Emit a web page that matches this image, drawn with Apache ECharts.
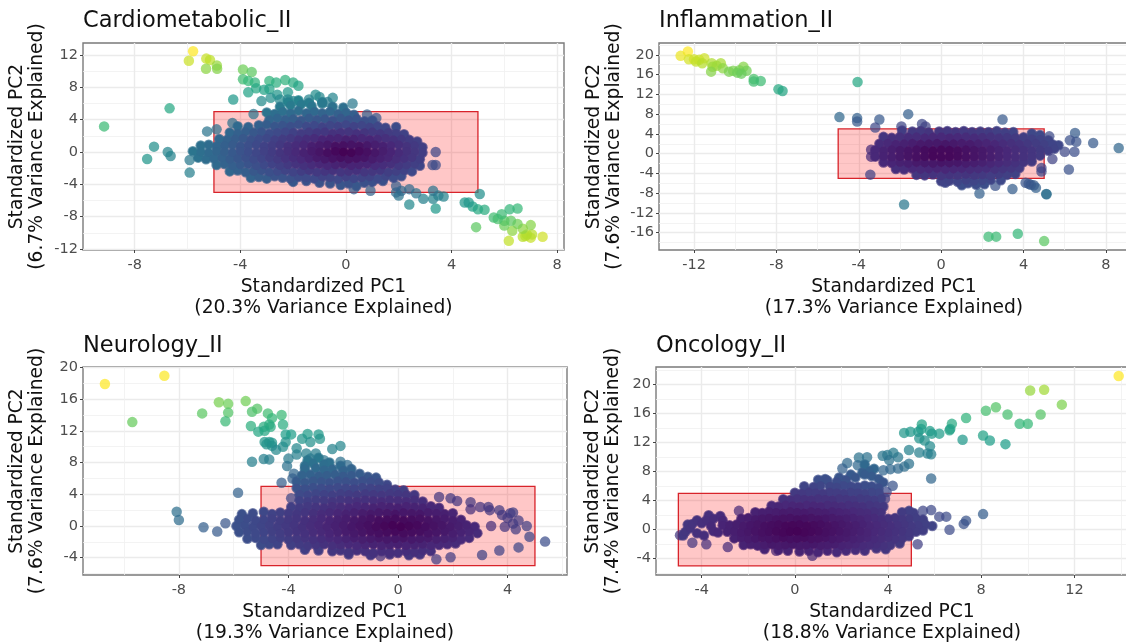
<!DOCTYPE html>
<html><head><meta charset="utf-8">
<script src="https://cdn.jsdelivr.net/npm/echarts@6/dist/echarts.min.js"></script>
<style>html,body{margin:0;padding:0;background:#fff;overflow:hidden}#c{width:1126px;height:642px}</style>
</head><body><div id="c"></div>
<script>
const panelTitles=["Cardiometabolic_II","Inflammation_II","Neurology_II","Oncology_II"];
const xNames=["Standardized PC1\n(20.3% Variance Explained)","Standardized PC1\n(17.3% Variance Explained)","Standardized PC1\n(19.3% Variance Explained)","Standardized PC1\n(18.8% Variance Explained)"];
const yNames=["Standardized PC2\n(6.7% Variance Explained)","Standardized PC2\n(7.6% Variance Explained)","Standardized PC2\n(7.6% Variance Explained)","Standardized PC2\n(7.4% Variance Explained)"];
const xMajor=[[-8,-4,0,4,8],[-12,-8,-4,0,4,8],[-8,-4,0,4],[-4,0,4,8,12]];
const xMinor=[[-6,-2,2,6],[-10,-6,-2,2,6],[-10,-6,-2,2,6],[-2,2,6,10,14]];
const yMajor=[[-12,-8,-4,0,4,8,12],[-16,-12,-8,-4,0,4,8,12,16,20],[-4,0,4,8,12,16,20],[-4,0,4,8,12,16,20]];
const yMinor=[[-10,-6,-2,2,6,10],[-18,-14,-10,-6,-2,2,6,10,14,18,22],[-6,-2,2,6,10,14,18],[-6,-2,2,6,10,14,18,22]];
const xRange=[[-9.96,8.26],[-13.7,9.12],[-11.5,6.17],[-5.96,14.3]];
const yRange=[[-12.13,13.49],[-19.5,22.4],[-6.18,20.05],[-6.25,22.44]];
const boxCorner=[5,5];
const viridis=["#440154","#482878","#3e4989","#31688e","#26828e","#1f9e89","#35b779","#6ece58","#b5de2b","#fde725"];

const cardioOuter=[
-5.79,12.47,-5.95,11.3,-5.29,11.56,-5.15,11.4,-4.89,10.7,-5.3,10.3,-4.88,10.3,-3.9,10.2,-3.57,9.9,-3.9,9,-3.7,8.8,-3.45,8.6,-2.9,8.8,-2.64,8.6,-2.3,8.9,-2,8.6,-1.8,8.2,-2.9,7.8,-3.4,7.9,-3.7,7.4,-3.1,7.7,-2.6,7.1,-2.2,7.4,-2.85,6.7,-2.5,6.5,-2.2,6.5,-2,6.3,-4.27,6.5,-6.68,5.4,-3.2,6.3,-9.16,3.17,-7.27,.66,-7.53,-.86,-6.75,0,-6.64,-.5,-5.92,-1,-5.92,-2.55,-5.26,2.55,-4.9,2.8,-4.3,3.6,-3.5,4.7,.25,6,-.5,6.7,-1.15,7.1,-1,6.8,-1.4,6.5,-.7,6.2,.8,4.65,1.15,4.2,3.4,0,3.28,-1.6,3.4,-1.6,.93,-4.8,.3,-4.6,1.9,-4.2,2,-5.4,2.4,-6.5,1.9,-5,2.1,-4.8,2.4,-4.6,2.66,-5.1,2.93,-5.8,3.3,-4.8,3.3,-5.8,3.4,-7,3.7,-5.5,3.5,-5.4,5.07,-5.2,4.5,-6.25,4.65,-6.25,4.8,-6.75,5,-7.1,5.25,-7.15,4.93,-9.3,5.6,-8.1,5.75,-8.3,5.9,-7.7,6,-8.5,6.2,-7.1,6.5,-7,6,-9.1,6.25,-8.5,6.3,-9.75,6.17,-11,6.5,-8.9,6.7,-9.5,7,-9.05,6.8,-10.4,7,-10.6,6.85,-10.2,7.05,-10.2,7.45,-10.5,6.7,-10.5
];
const cardioCore=[
-2.2,6.2,-1.8,6.4,-1.4,6.1,-.9,6.2,
-2.5,5.6,-2.1,5.8,-1.7,5.9,-1.3,5.7,-.9,6,-.5,5.6,-.1,5.5,
-3,4.9,-2.7,4.7,-2.4,5,-2.1,4.8,-1.8,5.1,-1.5,4.8,-1.2,5,-.9,4.8,-.6,5,-.3,4.7,0,4.9,.3,4.6,
-2.9,4,-2.6,4.2,-2.3,4,-2,4.1,-1.7,3.9,-1.4,4.2,-1.1,4,-.8,4.1,-.5,3.9,-.2,4.2,.1,4,.4,4.1,.7,3.8,1,3.9,
-4.1,3.2,-3.7,3.1,-3.3,3.3,-3,3.4,-2.7,3.2,-2.4,3.3,-2.1,3.2,-1.8,3.4,-1.5,3.2,-1.2,3.3,-.9,3.1,-.6,3.3,-.3,3.2,0,3.4,.3,3.2,.6,3.3,.9,3.1,1.2,3.2,1.5,3,1.9,3.1,
-4.4,2.4,-4.1,2.3,-3.8,2.5,-3.5,2.4,-3.2,2.5,-2.9,2.3,-2.6,2.4,-2.3,2.5,-2,2.4,-1.7,2.3,-1.4,2.5,-1.1,2.4,-.8,2.5,-.5,2.3,-.2,2.4,.1,2.5,.4,2.3,.7,2.4,1,2.5,1.3,2.3,1.6,2.4,1.9,2.3,2.2,2.2,
-4.8,1.6,-4.5,1.5,-4.2,1.6,-3.9,1.7,-3.6,1.5,-3.3,1.6,-3,1.7,-2.7,1.5,-2.4,1.6,-2.1,1.7,-1.8,1.5,-1.5,1.6,-1.2,1.7,-.9,1.5,-.6,1.6,-.3,1.7,0,1.5,.3,1.6,.6,1.7,.9,1.5,1.2,1.6,1.5,1.7,1.8,1.5,2.1,1.6,2.4,1.5,2.7,1.3,
-5.5,.8,-5.2,.9,-4.9,.7,-4.6,.8,-4.3,.9,-4,.7,-3.7,.8,-3.4,.9,-3.1,.7,-2.8,.8,-2.5,.9,-2.2,.7,-1.9,.8,-1.6,.9,-1.3,.7,-1,.8,-.7,.9,-.4,.7,-.1,.8,.2,.9,.5,.7,.8,.8,1.1,.9,1.4,.7,1.7,.8,2,.9,2.3,.7,2.6,.8,2.9,.6,
-5.8,.1,-5.5,0,-5.2,-.1,-4.9,.1,-4.6,0,-4.3,-.1,-4,.1,-3.7,0,-3.4,-.1,-3.1,.1,-2.8,0,-2.5,-.1,-2.2,.1,-1.9,0,-1.6,-.1,-1.3,.1,-1,0,-.7,-.1,-.4,.1,-.1,0,.2,-.1,.5,.1,.8,0,1.1,-.1,1.4,.1,1.7,0,2,-.1,2.3,.1,2.6,0,2.9,-.1,
-5.6,-.7,-5.3,-.9,-5,-.8,-4.7,-.7,-4.4,-.9,-4.1,-.8,-3.8,-.7,-3.5,-.9,-3.2,-.8,-2.9,-.7,-2.6,-.9,-2.3,-.8,-2,-.7,-1.7,-.9,-1.4,-.8,-1.1,-.7,-.8,-.9,-.5,-.8,-.2,-.7,.1,-.9,.4,-.8,.7,-.7,1,-.9,1.3,-.8,1.6,-.7,1.9,-.9,2.2,-.8,2.5,-.7,2.8,-.9,
-4.9,-1.6,-4.6,-1.5,-4.3,-1.7,-4,-1.6,-3.7,-1.5,-3.4,-1.7,-3.1,-1.6,-2.8,-1.5,-2.5,-1.7,-2.2,-1.6,-1.9,-1.5,-1.6,-1.7,-1.3,-1.6,-1,-1.5,-.7,-1.7,-.4,-1.6,-.1,-1.5,.2,-1.7,.5,-1.6,.8,-1.5,1.1,-1.7,1.4,-1.6,1.7,-1.5,2,-1.7,2.3,-1.6,2.6,-1.5,2.8,-1.7,
-4.4,-2.4,-4.1,-2.3,-3.8,-2.5,-3.5,-2.4,-3.2,-2.3,-2.9,-2.5,-2.6,-2.4,-2.3,-2.3,-2,-2.5,-1.7,-2.4,-1.4,-2.3,-1.1,-2.5,-.8,-2.4,-.5,-2.3,-.2,-2.5,.1,-2.4,.4,-2.3,.7,-2.5,1,-2.4,1.3,-2.3,1.6,-2.5,1.9,-2.4,2.2,-2.3,2.5,-2.4,
-3.6,-3.2,-3.3,-3.1,-3,-3.3,-2.7,-3,-2.4,-3.2,-2.1,-3.3,-1.8,-3.1,-1.5,-3.2,-1.2,-3.3,-.9,-3.1,-.6,-3.2,-.3,-3.4,0,-3.1,.3,-3.3,.6,-3.2,.9,-3.1,1.2,-3.3,1.5,-3,1.8,-3.2,2.1,-3,
-2,-3.7,-1.5,-3.6,-1,-3.8,-.6,-3.9,-.2,-4.1,.1,-3.9,.4,-4.2,.7,-3.8,1,-3.7,1.4,-3.6
];
const inflamOuter=[
-12.3,20.7,-12.65,19.8,-12.25,19.1,-12,19.1,-11.75,19,-11.5,19.3,-11.6,18.3,-11.9,18.65,-11.14,18.3,-11.1,17.6,-11.17,16.6,-10.7,18.3,-10.6,17.3,-10.9,17.8,-10.3,16.6,-10.1,16.8,-9.9,16.4,-9.7,16.2,-9.6,17.6,-9.45,16.8,-9.8,16.9,-9.1,15.1,-9.1,14.6,-8.76,14.7,-7.9,13.05,-7.7,12.7,-4.06,14.5,-4.94,7.4,-4.08,7.2,-4.08,6.5,-3,6.9,-3.2,5.3,-1.6,8,-.93,6,-.76,5.5,-1.93,5.5,2.98,6.9,-3.44,-4.25,-1.8,-10.3,2.3,-16.8,2.67,-16.8,3.72,-16.2,5,-17.7,8.62,1.15,7.38,2.15,6.5,4.2,6.25,2.7,6.56,2.4,6,.4,6.47,.4,6.2,-3.2,5.4,-1.1,5.1,-8.15,5.12,-8.2,4.6,-6.9,4.35,-6.3,4.1,-5.9,4.25,-6.1,4.5,-6.4,3.46,-7.15,2.63,-6.5,1.86,-8.05,4.87,-2.9,4.87,-3.6,5.25,3.5,-3.4,.8,-3.4,-.6
];
const inflamCore=[
-1.9,4.7,-1.4,4.5,-1,4.6,-.6,4.3,-.1,4.5,.3,4.6,.7,4.4,1.1,4.6,1.5,4.4,1.9,4.5,2.3,4.4,2.7,4.6,3.1,4.3,3.5,4.4,4.4,4.1,4.8,3.8,
-2.8,3.4,-2.4,3.2,-2,3.4,-1.6,3.3,-1.2,3.4,-.8,3.2,-.4,3.3,0,3.4,.4,3.2,.8,3.3,1.2,3.4,1.6,3.2,2,3.3,2.4,3.4,2.8,3.2,3.2,3.3,3.6,3.2,4,3.3,4.4,3,4.8,2.9,5.2,2.7,
-3,2,-2.6,2.1,-2.2,1.9,-1.8,2,-1.4,2.1,-1,1.9,-.6,2,-.2,2.1,.2,1.9,.6,2,1,2.1,1.4,1.9,1.8,2,2.2,2.1,2.6,1.9,3,2,3.4,2.1,3.8,1.9,4.2,2,4.6,2.1,5,1.9,5.4,1.9,5.7,1.7,
-3.2,.7,-2.8,.6,-2.4,.8,-2,.7,-1.6,.6,-1.2,.8,-.8,.7,-.4,.6,0,.8,.4,.7,.8,.6,1.2,.8,1.6,.7,2,.6,2.4,.8,2.8,.7,3.2,.6,3.6,.8,4,.7,4.4,.6,4.8,.8,5.2,.6,5.5,1,
-3.2,-.6,-2.8,-.5,-2.4,-.7,-2,-.6,-1.6,-.5,-1.2,-.7,-.8,-.6,-.4,-.5,0,-.7,.4,-.6,.8,-.5,1.2,-.7,1.6,-.6,2,-.5,2.4,-.7,2.8,-.6,3.2,-.5,3.6,-.7,4,-.6,4.4,-.5,4.8,-.4,
-2.8,-1.8,-2.4,-1.9,-2,-1.8,-1.6,-2,-1.2,-1.8,-.8,-1.9,-.4,-2,0,-1.8,.4,-1.9,.8,-1.8,1.2,-2,1.6,-1.9,2,-1.8,2.4,-2,2.8,-1.9,3.2,-1.8,3.6,-1.9,4,-1.7,4.4,-1.6,
-2.2,-3.1,-1.8,-3.2,-1.4,-3,-1,-3.2,-.6,-3.1,-.2,-3,.2,-3.2,.6,-3.1,1,-3,1.4,-3.2,1.8,-3.1,2.2,-3,2.6,-3.2,3,-3.1,3.4,-3,3.8,-2.9,
-1.2,-4.3,-.8,-4.4,-.4,-4.2,0,-4.5,.4,-4.3,.8,-4.4,1.2,-4.2,1.6,-4.4,2,-4.3,2.4,-4.5,2.8,-4.2,3.2,-4.3,3.6,-4.1,
0,-5.6,.4,-5.5,.8,-5.7,1.2,-5.4,1.6,-5.6,2,-5.5,2.4,-5.3,2.9,-5.4,
.2,-5.9,1,-6.4,1.3,-6,1.7,-6.3,2.1,-6.2
];
const neuroOuter=[
-10.7,17.9,-8.53,18.95,-9.7,13.1,-6.54,15.6,-6.2,15.4,-6.2,14.3,-6.3,13.2,-7.15,14.2,-5.56,15.75,-5.14,14.8,-5.33,14.4,-4.75,14.2,-4.25,14,-4.6,13.6,-5.37,12.6,-4.2,12.8,-4.7,12.8,-4.9,12.5,-4.65,12.5,-5.1,11.9,-4.87,12,-4.87,10.6,-4.7,10.6,-4.6,10.5,-4.8,10.3,-4.6,10.1,-4.45,9.6,-4.2,10,-4.1,10.6,-4.1,11.55,-3.9,11.55,-3.5,11,-3.3,11.6,-3.2,10.6,-2.9,11.55,-2.85,11,-3.7,9.8,-2.4,9.7,-2.1,10.1,-5.33,8.1,-4.9,8.45,-4.7,8.4,-4,8.5,-4.05,7.55,-3.7,9,-3.35,9.15,-3,9.15,-3.2,8.5,-2.7,8.3,-2.1,8.1,-1.85,7.7,-4.25,5.45,-3.85,6,-3.8,6.6,-5.84,4.2,-3.9,3.5,-8.08,1.8,-8,.75,-7.1,-.15,-6.6,-.7,-6.3,.35,5.37,-1.97,4.8,-1.35,4.4,-2.7,3.7,-3.1,3.07,-3.65,1.92,-3.95,1.4,-4.2,-.64,-3.8,1.92,3.5,2.16,3.15,1.5,3.65,2.65,3,2.65,2.1,3,2.4,3.3,2.4,3.7,2,3.35,2,4.1,1.6,4.2,1.7,3.8,1.4,4.4,.7,3.9,-.1,4.2,.3,4.7,0,3.4,0,4.3,-.4,4,1
];
const neuroCore=[
-3.3,8.3,-2.9,8.6,-2.5,8,-3.1,7.9,-2.7,7.8,-3.4,7.6,-2.1,7.6,
-3.4,7.2,-3,7.3,-2.7,7.1,-2.4,7.2,-2,7,-1.7,7.2,
-3.5,6.4,-3.2,6.5,-2.9,6.3,-2.6,6.4,-2.3,6.5,-2,6.3,-1.7,6.4,-1.4,6.6,-1.1,6.2,-.8,6.1,
-3.7,5.6,-3.4,5.5,-3.1,5.7,-2.8,5.6,-2.5,5.5,-2.2,5.7,-1.9,5.6,-1.6,5.5,-1.3,5.7,-1,5.6,-.7,5.5,-.4,5.2,
-3.7,4.8,-3.4,4.7,-3.1,4.9,-2.8,4.8,-2.5,4.7,-2.2,4.9,-1.9,4.8,-1.6,4.7,-1.3,4.9,-1,4.8,-.7,4.7,-.4,4.8,-.1,4.6,.2,4.5,
-3.6,4,-3.3,3.9,-3,4.1,-2.7,4,-2.4,3.9,-2.1,4.1,-1.8,4,-1.5,3.9,-1.2,4.1,-.9,4,-.6,3.9,-.3,4.1,0,4,.3,3.9,.6,3.9,
-3.6,3.2,-3.3,3.1,-3,3.3,-2.7,3.2,-2.4,3.1,-2.1,3.3,-1.8,3.2,-1.5,3.1,-1.2,3.3,-.9,3.2,-.6,3.1,-.3,3.3,0,3.2,.3,3.1,.6,3.3,.9,3.1,
-3.9,2.4,-3.6,2.3,-3.3,2.5,-3,2.4,-2.7,2.3,-2.4,2.5,-2.1,2.4,-1.8,2.3,-1.5,2.5,-1.2,2.4,-.9,2.3,-.6,2.5,-.3,2.4,0,2.3,.3,2.5,.6,2.4,.9,2.3,1.2,2.5,1.5,2.3,
-5.7,1.5,-5.3,1.6,-4.9,1.8,-4.6,1.5,-4.3,1.7,-4,1.6,-3.7,1.5,-3.4,1.7,-3.1,1.6,-2.8,1.5,-2.5,1.7,-2.2,1.6,-1.9,1.5,-1.6,1.7,-1.3,1.6,-1,1.5,-.7,1.7,-.4,1.6,-.1,1.5,.2,1.7,.5,1.6,.8,1.5,1.1,1.7,1.4,1.6,1.7,1.5,2,1.6,
-5.8,.8,-5.5,.9,-5.2,.7,-4.9,.8,-4.6,.9,-4.3,.7,-4,.8,-3.7,.9,-3.4,.7,-3.1,.8,-2.8,.9,-2.5,.7,-2.2,.8,-1.9,.9,-1.6,.7,-1.3,.8,-1,.9,-.7,.7,-.4,.8,-.1,.9,.2,.7,.5,.8,.8,.9,1.1,.7,1.4,.8,1.7,.9,2,.7,2.3,.8,
-5.9,0,-5.6,.1,-5.3,-.1,-5,0,-4.7,.1,-4.4,-.1,-4.1,0,-3.8,.1,-3.5,-.1,-3.2,0,-2.9,.1,-2.6,-.1,-2.3,0,-2,.1,-1.7,-.1,-1.4,0,-1.1,.1,-.8,-.1,-.5,0,-.2,.1,.1,-.1,.4,0,.7,.1,1,-.1,1.3,0,1.6,.1,1.9,-.1,2.2,0,2.5,.1,2.8,-.1,
-5.8,-.8,-5.5,-.7,-5.2,-.9,-4.9,-.8,-4.6,-.7,-4.3,-.9,-4,-.8,-3.7,-.7,-3.4,-.9,-3.1,-.8,-2.8,-.7,-2.5,-.9,-2.2,-.8,-1.9,-.7,-1.6,-.9,-1.3,-.8,-1,-.7,-.7,-.9,-.4,-.8,-.1,-.7,.2,-.9,.5,-.8,.8,-.7,1.1,-.9,1.4,-.8,1.7,-.7,2,-.9,2.3,-.8,2.6,-.7,2.9,-.9,
-5.5,-1.6,-5.2,-1.5,-4.9,-1.7,-4.6,-1.6,-4.3,-1.5,-4,-1.7,-3.7,-1.6,-3.4,-1.5,-3.1,-1.7,-2.8,-1.6,-2.5,-1.5,-2.2,-1.7,-1.9,-1.6,-1.6,-1.5,-1.3,-1.7,-1,-1.6,-.7,-1.5,-.4,-1.7,-.1,-1.6,.2,-1.5,.5,-1.7,.8,-1.6,1.1,-1.5,1.4,-1.7,1.7,-1.6,2,-1.5,2.3,-1.7,2.6,-1.5,
-5,-2.4,-4.7,-2.3,-4.4,-2.3,-3.9,-2.4,-3.6,-2.3,-3.3,-2.5,-3,-2.4,-2.7,-2.3,-2.4,-2.5,-2.1,-2.4,-1.8,-2.3,-1.5,-2.5,-1.2,-2.4,-.9,-2.3,-.6,-2.5,-.3,-2.4,0,-2.3,.3,-2.5,.6,-2.4,.9,-2.3,1.2,-2.5,1.5,-2.4,1.8,-2.3,2.1,-2.2,
-3.4,-3,-2.9,-3.1,-2.4,-3.2,-2.1,-3.1,-1.8,-3.3,-1.5,-3.1,-1.2,-3.2,-.9,-3.4,-.6,-3.2,-.3,-3.3,0,-3.4,.3,-3.2,.6,-3.3,.9,-3.1,1.2,-3.2,
-1.8,-3.6,-1,-3.7,-.3,-3.6,.4,-3.7,.8,-3.6
];
const oncoOuter=[
13.9,21.2,10.1,19.2,10.7,19.3,11.46,17.25,10.55,15.9,10,14.6,9.65,14.6,9.13,15.9,8.63,16.9,8.2,16.4,7.35,15.4,9.04,11.8,8.37,12.3,8.08,13,7.2,12.4,6.74,14.6,6.67,13.9,6.64,13.7,6.2,13.25,5.88,13.25,5.8,13.6,5.45,14.5,5.42,13.9,5.3,13.5,4.96,13.5,4.69,13.35,5.34,12.6,5.57,12.3,5.8,11.5,5.85,10.4,5.34,10.65,4.9,11,5.7,10.5,5.85,7.05,4.23,10.6,3.97,10.3,3.77,10.2,4.43,10,4.05,9.6,4.9,9.1,4.7,8.7,4.43,8.45,4.1,8.35,3.8,8.2,3.1,10,2.75,9.95,2.25,9.2,2.7,8.9,2.04,8.45,4.2,6.05,3.94,5.2,3.87,4.3,8.08,2.15,7.35,1.25,7.25,.8,6.64,0,6.5,1.8,6.2,1.8,5.85,2.7,5.5,2.6,5.27,-2,.75,-3.6,-.8,-2.9,-2.88,-2.4,-3.8,-2,-4.4,-1.8,-4.93,-.75,-2.4,2.6
];
const oncoCore=[
-4.8,-.8,-4.7,-.3,-4.5,.2,-4.4,.8,-4.2,1.3,-4,.9,-3.7,2,-3.5,1.5,-3.2,1.9,-3.1,1.3,-3.8,1.3,-3.6,.5,-4.2,-.5,-3.9,-.8,-3.5,-.2,-3.1,.6,-4.6,.7,-3.3,-.4,3,9,3.4,8.4,3.2,8.1,2.9,7.9,2.4,7.6,1.9,7.2,
1,6.9,1.4,6.8,1.8,6.6,2.2,6.9,2.6,7.2,3,7.6,3.3,7.4,3.6,7,1.3,7,3.8,6.5,
.4,6,.8,5.9,1.1,6.1,1.5,6,1.8,5.9,2.1,6.1,2.4,6,2.7,5.9,3,6.1,3.3,6,3.6,5.8,
0,5.1,.3,5,.6,5.2,.9,5.1,1.2,5,1.5,5.2,1.8,5.1,2.1,5,2.4,5.2,2.7,5.1,3,5,3.3,5.2,3.6,5.1,
-.5,4.2,-.2,4.1,.1,4.3,.4,4.2,.7,4.1,1,4.3,1.3,4.2,1.6,4.1,1.9,4.3,2.2,4.2,2.5,4.1,2.8,4.3,3.1,4.2,3.4,4.1,3.7,4.3,
-1,3.3,-.7,3.2,-.4,3.4,-.1,3.3,.2,3.2,.5,3.4,.8,3.3,1.1,3.2,1.4,3.4,1.7,3.3,2,3.2,2.3,3.4,2.6,3.3,2.9,3.2,3.2,3.4,3.5,3.3,3.8,3.2,
-1.7,2.4,-1.4,2.3,-1.1,2.5,-.8,2.4,-.5,2.3,-.2,2.5,.1,2.4,.4,2.3,.7,2.5,1,2.4,1.3,2.3,1.6,2.5,1.9,2.4,2.2,2.3,2.5,2.5,2.8,2.4,3.1,2.3,3.4,2.5,3.7,2.4,4.6,2.4,4.9,2.6,5.1,2.3,
-2.3,1.5,-2,1.6,-1.7,1.4,-1.4,1.5,-1.1,1.6,-.8,1.4,-.5,1.5,-.2,1.6,.1,1.4,.4,1.5,.7,1.6,1,1.4,1.3,1.5,1.6,1.6,1.9,1.4,2.2,1.5,2.5,1.6,2.8,1.4,3.1,1.5,3.4,1.6,3.7,1.4,4,1.5,4.3,1.6,4.6,1.4,4.9,1.5,5.2,1.6,5.5,1.4,
-2.8,.6,-2.5,.7,-2.2,.5,-1.9,.6,-1.6,.7,-1.3,.5,-1,.6,-.7,.7,-.4,.5,-.1,.6,.2,.7,.5,.5,.8,.6,1.1,.7,1.4,.5,1.7,.6,2,.7,2.3,.5,2.6,.6,2.9,.7,3.2,.5,3.5,.6,3.8,.7,4.1,.5,4.4,.6,4.7,.7,5,.5,5.3,.6,5.6,.7,5.9,.5,
-2.9,-.3,-2.6,-.2,-2.3,-.4,-2,-.3,-1.7,-.2,-1.4,-.4,-1.1,-.3,-.8,-.2,-.5,-.4,-.2,-.3,.1,-.2,.4,-.4,.7,-.3,1,-.2,1.3,-.4,1.6,-.3,1.9,-.2,2.2,-.4,2.5,-.3,2.8,-.2,3.1,-.4,3.4,-.3,3.7,-.2,4,-.4,4.3,-.3,4.6,-.2,4.9,-.4,5.2,-.3,5.5,-.1,
-2.6,-1.2,-2.3,-1.1,-2,-1.3,-1.7,-1.2,-1.4,-1.1,-1.1,-1.3,-.8,-1.2,-.5,-1.1,-.2,-1.3,.1,-1.2,.4,-1.1,.7,-1.3,1,-1.2,1.3,-1.1,1.6,-1.3,1.9,-1.2,2.2,-1.1,2.5,-1.3,2.8,-1.2,3.1,-1.1,3.4,-1.3,3.7,-1.2,4,-1.1,4.3,-1.3,4.6,-1.2,4.9,-.9,
-2.2,-2.1,-1.9,-2,-1.6,-2.2,-1.3,-2.1,-1,-2,-.7,-2.2,-.4,-2.1,-.1,-2,.2,-2.2,.5,-2.1,.8,-2,1.1,-2.2,1.4,-2.1,1.7,-2,2,-2.2,2.3,-2.1,2.6,-2,2.9,-2.2,3.2,-2.1,3.5,-2,3.8,-2.2,4.1,-2.1,4.5,-1.9,
-1.3,-2.7,-.7,-2.8,-.3,-2.9,.2,-3,.6,-2.9,1,-3.1,1.4,-2.9,1.8,-3.1,2.2,-2.9,2.6,-2.8,3,-2.9,3.5,-2.6,3.9,-2.7
];
const outerData=[cardioOuter,inflamOuter,neuroOuter,oncoOuter];
const coreData=[cardioCore,inflamCore,neuroCore,oncoCore];

const gridBoxes=[
 {left:83,top:43,width:481,height:207},
 {left:659,top:43,width:470,height:207},
 {left:83,top:367,width:484,height:208},
 {left:656,top:367,width:472,height:208}
];
const titleLeft=[83,659,83,656], titleTop=[10,10,335,335], yNameGap=[36,35,36,33];
const axisGrey="#4d4d4d";
const grid=[],title=[],xAxis=[],yAxis=[],series=[],visualMap=[];
function toPoints(flat,top){
  const p=[];
  for(let k=0;k<flat.length;k+=2){const d=Math.hypot(flat[k],flat[k+1]);p.push([flat[k],flat[k+1],Math.pow(d/top,1.1)]);}
  return p.sort((a,b)=>b[2]-a[2]);
}
function farthest(flat){
  let m=0;
  for(let k=0;k<flat.length;k+=2){m=Math.max(m,Math.hypot(flat[k],flat[k+1]));}
  return m;
}
panelTitles.forEach((t,i)=>{
  const top=farthest(outerData[i]);
  grid.push({...gridBoxes[i],show:true,backgroundColor:"#fff",borderColor:"#7a7a7a",borderWidth:1.4,containLabel:false,outerBoundsMode:"none"});
  title.push({text:t,left:titleLeft[i],top:titleTop[i],padding:0,textStyle:{fontFamily:"DejaVu Sans",fontSize:22.5,fontWeight:"normal",color:"#111"}});
  const tickStyle={show:true,length:3,lineStyle:{color:"#444",width:1}};
  xAxis.push({type:"value",gridIndex:i,position:"bottom",min:xRange[i][0],max:xRange[i][1],
    name:xNames[i],nameLocation:"middle",nameGap:26.5,nameTextStyle:{fontFamily:"DejaVu Sans",fontSize:18.7,color:"#111",lineHeight:21,verticalAlign:"top"},
    axisLine:{show:false,onZero:false},axisTick:{...tickStyle,customValues:xMajor[i]},
    axisLabel:{customValues:xMajor[i],fontFamily:"DejaVu Sans",fontSize:14.5,color:axisGrey,margin:8},
    splitLine:{show:true,lineStyle:{color:"#ebebeb",width:1.4}}});
  yAxis.push({type:"value",gridIndex:i,position:"left",min:yRange[i][0],max:yRange[i][1],
    name:yNames[i],nameLocation:"middle",nameGap:yNameGap[i],nameTextStyle:{fontFamily:"DejaVu Sans",fontSize:18.7,color:"#111",lineHeight:20,verticalAlign:"bottom"},
    axisLine:{show:false,onZero:false},axisTick:{...tickStyle,customValues:yMajor[i]},
    axisLabel:{customValues:yMajor[i],fontFamily:"DejaVu Sans",fontSize:14.5,color:axisGrey,margin:5},
    splitLine:{show:true,lineStyle:{color:"#ebebeb",width:1.4}}});
  series.push({type:"scatter",xAxisIndex:i,yAxisIndex:i,z:5,symbolSize:10.5,data:toPoints(outerData[i].concat(coreData[i]),top),
    itemStyle:{opacity:.72},emphasis:{disabled:true},silent:true,
    markArea:{silent:true,z:1,itemStyle:{color:"rgba(255,0,0,0.22)",borderColor:"#d8232a",borderWidth:1.3},
      data:[[{coord:[-boxCorner[0],boxCorner[1]]},{coord:[boxCorner[0],-boxCorner[1]]}]]}});
});
panelTitles.forEach((t,i)=>{
  const top=farthest(outerData[i]);
  series.push({type:"scatter",xAxisIndex:i,yAxisIndex:i,z:6,symbolSize:8.5,data:toPoints(coreData[i],top),
    itemStyle:{opacity:1},emphasis:{disabled:true},silent:true});
  visualMap.push({show:false,type:"continuous",seriesIndex:[i,i+4],dimension:2,min:0,max:1,inRange:{color:viridis}});
  const hidden={axisLine:{show:false,onZero:false},axisLabel:{show:false},splitLine:{show:true,lineStyle:{color:"#f0f0f0",width:.8}}};
  xAxis.push({type:"value",gridIndex:i,position:"bottom",min:xRange[i][0],max:xRange[i][1],...hidden,axisTick:{show:false,customValues:xMinor[i]}});
  yAxis.push({type:"value",gridIndex:i,position:"left",min:yRange[i][0],max:yRange[i][1],...hidden,axisTick:{show:false,customValues:yMinor[i]}});
});
const chart=echarts.init(document.getElementById("c"),null,{renderer:"canvas"});
chart.setOption({animation:false,backgroundColor:"#fff",title,grid,xAxis,yAxis,series,visualMap});
</script></body></html>
